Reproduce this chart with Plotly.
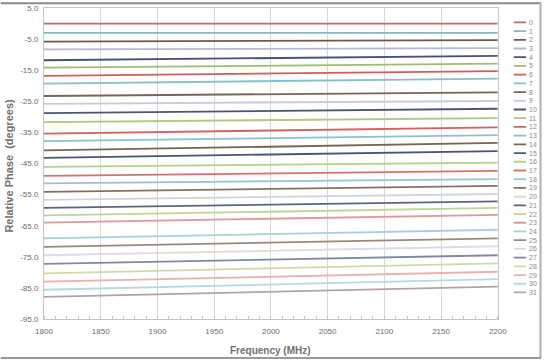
import plotly.graph_objects as go

# ---- data ----
frequency = [1800, 2200]
series_names = [str(i) for i in range(32)]
phase_at_1800 = [0.0, -3.0, -5.8, -8.3, -11.8, -14.2, -16.8, -19.3, -23.3, -25.8,
                 -28.8, -31.7, -35.4, -37.8, -40.8, -43.2, -46.1, -49.0, -51.4, -54.1,
                 -56.7, -59.3, -61.7, -64.0, -69.1, -71.8, -74.5, -77.3, -80.3, -83.0,
                 -85.6, -87.9]
phase_at_2200 = [0.0, -3.0, -5.3, -7.9, -10.4, -12.9, -15.3, -17.7, -22.1, -24.9,
                 -27.4, -30.4, -33.4, -35.9, -38.4, -41.0, -44.7, -47.4, -50.0, -52.2,
                 -54.8, -57.2, -59.3, -61.5, -66.3, -69.1, -71.6, -74.5, -77.1, -79.8,
                 -82.2, -84.6]
series_colors = ["#c96a6a", "#8ab6be", "#6a5a50", "#b4b8ca", "#4a5070", "#a2ba72",
                 "#d05c5c", "#88c0c8", "#7a6458", "#c8ccd8", "#4c5470", "#b0c880",
                 "#d06262", "#8cc0cc", "#7a6458", "#4c5474", "#b8d088", "#d87070",
                 "#98c4cc", "#847068", "#d0d4dc", "#5c6480", "#c0d498", "#e09898",
                 "#a8d0d8", "#988880", "#d8dce4", "#8088a0", "#ccdca8", "#e8b0b0",
                 "#b8d8e0", "#b0a4a0"]
x_ticks = [1800, 1850, 1900, 1950, 2000, 2050, 2100, 2150, 2200]
y_ticks = [5.0, -5.0, -15.0, -25.0, -35.0, -45.0, -55.0, -65.0, -75.0, -85.0, -95.0]

W, H = 554, 361
L, R, T, B = 44, 4, 5.5, 41.5
plot_w = W - L - R
plot_h = H - T - B
main_right_px = 506
leg_x0_px, leg_x1_px = 522, 535

def px_to_paper_x(px):
    return (px - L) / plot_w

def px_to_paper_y(py):
    return (H - B - py) / plot_h

fig = go.Figure()
for name, y0, y1, c in zip(series_names, phase_at_1800, phase_at_2200, series_colors):
    fig.add_trace(go.Scatter(x=frequency, y=[y0, y1], mode="lines", name=name,
                             line=dict(color=c, width=1.8), showlegend=False,
                             xaxis="x", yaxis="y"))

# legend drawn as a small side axis
for i, (name, c) in enumerate(zip(series_names, series_colors)):
    fig.add_trace(go.Scatter(x=[0, 1], y=[i, i], mode="lines", line=dict(color=c, width=1.8),
                             showlegend=False, hoverinfo="skip", xaxis="x2", yaxis="y2"))
    fig.add_annotation(x=1, y=i, xref="x2", yref="y2", text=name, showarrow=False,
                       xanchor="left", yanchor="middle", xshift=1,
                       font=dict(size=7, color="#8a8a8a"))

# legend axis range so that entry 0 sits at 20 px and entry 31 at 292.7 px
top_idx_px, bot_idx_px = 20.0, 292.7
per_px = (len(series_names) - 1) / (bot_idx_px - top_idx_px)
y2_top = -(top_idx_px - T) * per_px
y2_bot = y2_top + plot_h * per_px

fig.update_layout(
    width=W, height=H,
    margin=dict(l=L, r=R, t=T, b=B),
    paper_bgcolor="white", plot_bgcolor="white",
    font=dict(family="Liberation Sans, Arial, sans-serif", color="#6a6a6a"),
    xaxis=dict(domain=[0, px_to_paper_x(main_right_px)], range=[1800, 2200],
               tickvals=x_ticks, ticktext=[str(v) for v in x_ticks],
               showgrid=True, gridcolor="#d6d6d6", gridwidth=1,
               showline=True, linecolor="#c4c4c4", linewidth=1, mirror=True,
               ticks="", ticklabelstandoff=4, tickfont=dict(size=8, color="#6a6a6a"),
               minor=dict(dtick=10, ticks="inside", ticklen=3, tickcolor="#c4c4c4",
                          showgrid=False),
               zeroline=False),
    yaxis=dict(range=[-95, 5], tickvals=y_ticks, ticktext=[f"{v:.1f}" for v in y_ticks],
               showgrid=False, showline=True, linecolor="#c4c4c4", linewidth=1,
               mirror=True, ticks="", ticklabelstandoff=3, tickfont=dict(size=8, color="#6a6a6a"),
               zeroline=False),
    xaxis2=dict(domain=[px_to_paper_x(leg_x0_px), px_to_paper_x(leg_x1_px)], range=[0, 1],
                visible=False, anchor="y2"),
    yaxis2=dict(range=[y2_bot, y2_top], visible=False, anchor="x2"),
)

fig.add_annotation(text="<b>Relative Phase  (degrees)</b>", xref="paper", yref="paper",
                   x=px_to_paper_x(8), y=px_to_paper_y(165), textangle=-90,
                   showarrow=False, xanchor="center", yanchor="middle",
                   font=dict(size=11, color="#707070"))
fig.add_annotation(text="<b>Frequency (MHz)</b>", xref="paper", yref="paper",
                   x=px_to_paper_x(275), y=px_to_paper_y(351),
                   showarrow=False, xanchor="center", yanchor="middle",
                   font=dict(size=10, color="#707070"))

# outer chart frame
fig.add_shape(type="line", xref="paper", yref="paper",
              x0=px_to_paper_x(0), x1=px_to_paper_x(550), y0=px_to_paper_y(0.8), y1=px_to_paper_y(0.8),
              line=dict(color="#8a8a8a", width=2))
fig.add_shape(type="line", xref="paper", yref="paper",
              x0=px_to_paper_x(549.5), x1=px_to_paper_x(549.5), y0=px_to_paper_y(0), y1=px_to_paper_y(359),
              line=dict(color="#b0b0b0", width=2))
fig.add_shape(type="line", xref="paper", yref="paper",
              x0=px_to_paper_x(0), x1=px_to_paper_x(550), y0=px_to_paper_y(359), y1=px_to_paper_y(359),
              line=dict(color="#9a9a9a", width=2))

fig.write_html("out.html")
